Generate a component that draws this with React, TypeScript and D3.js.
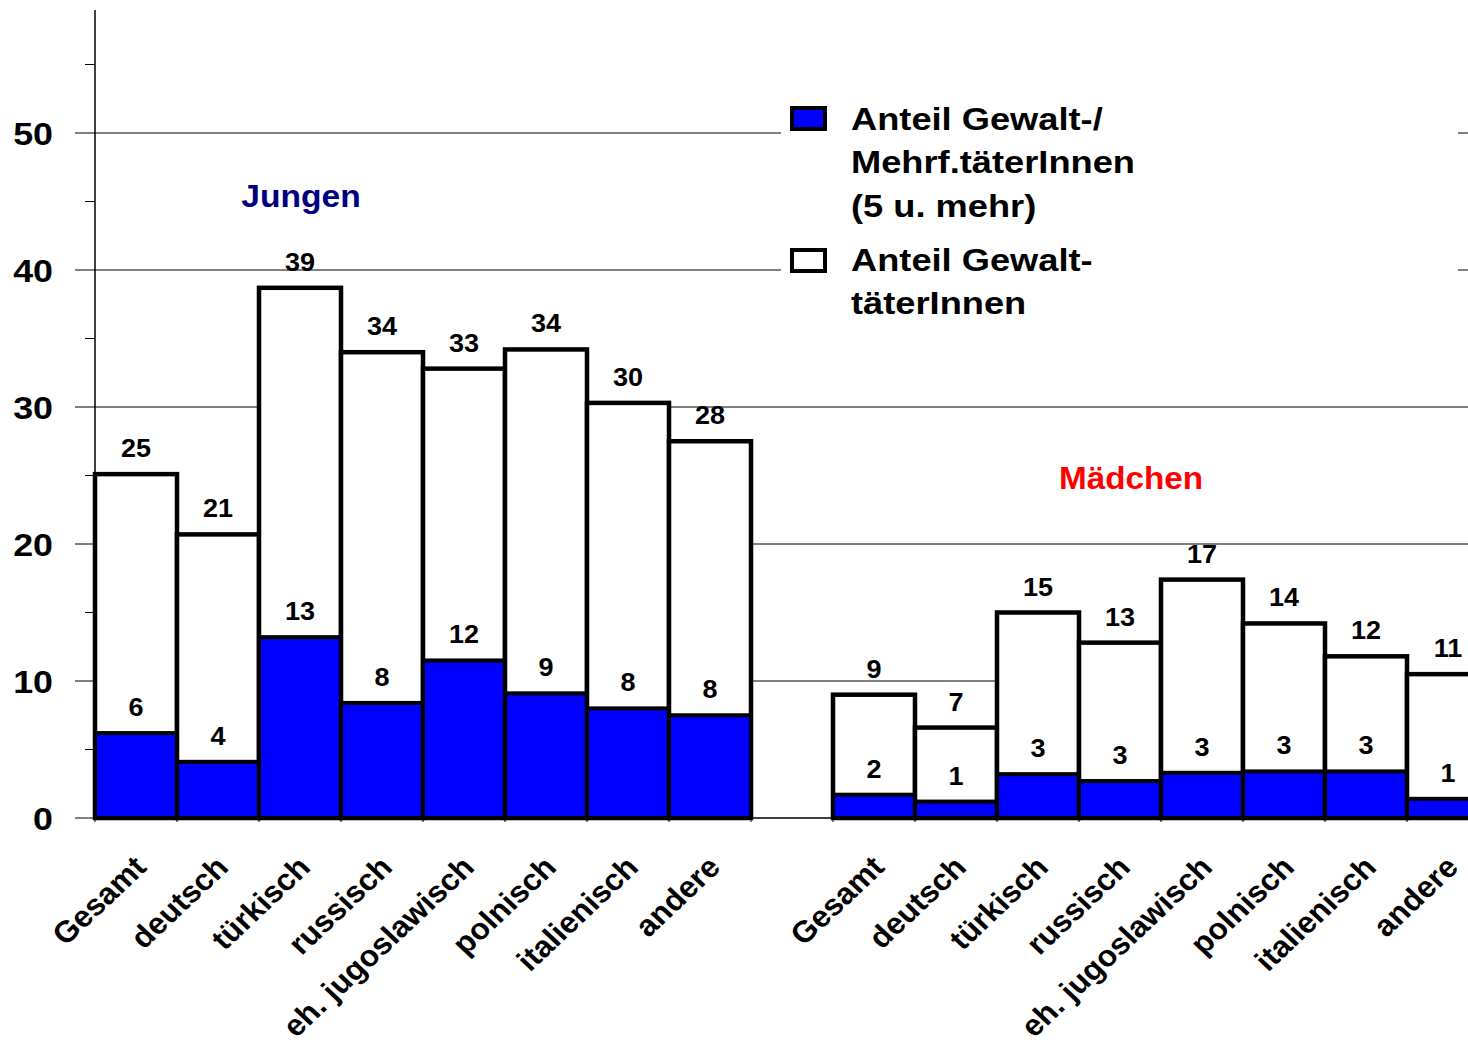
import React from "react";
import * as d3 from "d3";

const categories = ["Gesamt", "deutsch", "türkisch", "russisch", "eh. jugoslawisch", "polnisch", "italienisch", "andere"];
const jungenTotal = [25.1, 20.7, 38.7, 34.0, 32.8, 34.2, 30.3, 27.5];
const jungenMulti = [6.2, 4.1, 13.2, 8.4, 11.5, 9.1, 8.0, 7.5];
const maedchenTotal = [9.0, 6.6, 15.0, 12.8, 17.4, 14.2, 11.8, 10.5];
const maedchenMulti = [1.7, 1.2, 3.2, 2.7, 3.3, 3.4, 3.4, 1.4];
const yTicks = [0, 10, 20, 30, 40, 50];
const yMinorTicks = [5, 15, 25, 35, 45, 55];
const legendItems = [
  { lines: ["Anteil Gewalt-/", "Mehrf.täterInnen", "(5 u. mehr)"], fill: "#0000FF" },
  { lines: ["Anteil Gewalt-", "täterInnen"], fill: "#FFFFFF" },
];

const W = 1468;
const H = 1044;
const FONT = "'Liberation Sans', Arial, Helvetica, sans-serif";

type Row = { key: string; label: string; total: number; multi: number };
const rows: Row[] = [];
categories.forEach((c, i) => rows.push({ key: "J" + i, label: c, total: jungenTotal[i], multi: jungenMulti[i] }));
rows.push({ key: "gap", label: "", total: NaN, multi: NaN });
categories.forEach((c, i) => rows.push({ key: "M" + i, label: c, total: maedchenTotal[i], multi: maedchenMulti[i] }));

function T(props: { x: number; y: number; sx?: number; size: number; anchor?: string; fill?: string; rotate?: number; children: React.ReactNode }) {
  const { x, y, sx = 1.08, size, anchor = "middle", fill = "#000", rotate = 0, children } = props;
  return (
    <text
      transform={`translate(${x},${y}) scale(${sx},1)${rotate ? ` rotate(${rotate})` : ""}`}
      textAnchor={anchor}
      fontFamily={FONT}
      fontWeight="bold"
      fontSize={size}
      fill={fill}
    >
      {children}
    </text>
  );
}

export default function App() {
  const x = d3.scaleBand<string>().domain(rows.map((r) => r.key)).range([95, 95 + 17 * 82]).padding(0);
  const y = d3.scaleLinear().domain([0, 50]).range([818, 133]);
  const bw = x.bandwidth();
  const axisTop = 10;

  return (
    <div style={{ position: "absolute", left: 0, top: 0, width: W, height: H, overflow: "hidden", background: "#fff" }}>
      <svg width={W} height={H} style={{ display: "block" }}>
        <rect x={0} y={0} width={W} height={H} fill="#fff" />
        {/* gridlines */}
        {yTicks.filter((t) => t > 0).map((t) => (
          <line key={"g" + t} x1={95} x2={W} y1={y(t)} y2={y(t)} stroke="#000" strokeWidth={1} />
        ))}
        {/* x baseline */}
        <line x1={95} x2={W} y1={y(0)} y2={y(0)} stroke="#000" strokeWidth={1.5} />
        {rows.map((r, i) => (
          <line key={"xt" + i} x1={x(r.key)!} x2={x(r.key)!} y1={y(0)} y2={y(0) + 4} stroke="#000" strokeWidth={1} />
        ))}
        {/* legend background */}
        <rect x={781} y={96} width={677} height={240} fill="#fff" />
        {/* bars */}
        {rows.filter((r) => r.key !== "gap").map((r) => {
          const x0 = x(r.key)!;
          return (
            <g key={r.key}>
              <rect x={x0} y={y(r.total)} width={bw} height={y(0) - y(r.total)} fill="#fff" stroke="#000" strokeWidth={4.5} />
              <rect x={x0} y={y(r.multi)} width={bw} height={y(0) - y(r.multi)} fill="#0000FF" stroke="#000" strokeWidth={4} />
            </g>
          );
        })}
        {/* value labels */}
        {rows.filter((r) => r.key !== "gap").map((r) => {
          const cx = x(r.key)! + bw / 2;
          return (
            <g key={"l" + r.key}>
              <T x={cx} y={y(r.total) - 17} size={25}>{Math.round(r.total)}</T>
              <T x={cx} y={y(r.multi) - 17} size={25}>{Math.round(r.multi)}</T>
            </g>
          );
        })}
        {/* category labels */}
        {rows.filter((r) => r.key !== "gap").map((r) => {
          const cx = x(r.key)! + bw / 2;
          return (
            <T key={"c" + r.key} x={cx + 12} y={869} size={30} anchor="end" rotate={-45} sx={1.06}>
              {r.label}
            </T>
          );
        })}
        {/* y axis */}
        <line x1={95} x2={95} y1={axisTop} y2={y(0)} stroke="#000" strokeWidth={1.5} />
        {yTicks.map((t) => (
          <g key={"yt" + t}>
            <line x1={75} x2={95} y1={y(t)} y2={y(t)} stroke="#000" strokeWidth={1} />
            <T x={53} y={y(t) + 12} size={32} anchor="end" sx={1.12}>{t}</T>
          </g>
        ))}
        {yMinorTicks.map((t) => (
          <line key={"ym" + t} x1={85} x2={95} y1={y(t)} y2={y(t)} stroke="#000" strokeWidth={1} />
        ))}
        {/* group titles */}
        <T x={301} y={207} size={32} fill="#000080" sx={1.05}>Jungen</T>
        <T x={1131} y={489} size={32} fill="#FF0000" sx={1.04}>Mädchen</T>
        {/* legend */}
        {legendItems.map((it, i) => {
          const top = i === 0 ? 107 : 249;
          const base = i === 0 ? 130 : 271;
          return (
            <g key={"lg" + i}>
              <rect x={792} y={top + 1} width={33} height={21} fill={it.fill} stroke="#000" strokeWidth={4} />
              {it.lines.map((ln, j) => (
                <T key={j} x={851} y={base + j * 43.3} size={31} anchor="start" sx={1.17}>{ln}</T>
              ))}
            </g>
          );
        })}
      </svg>
    </div>
  );
}
